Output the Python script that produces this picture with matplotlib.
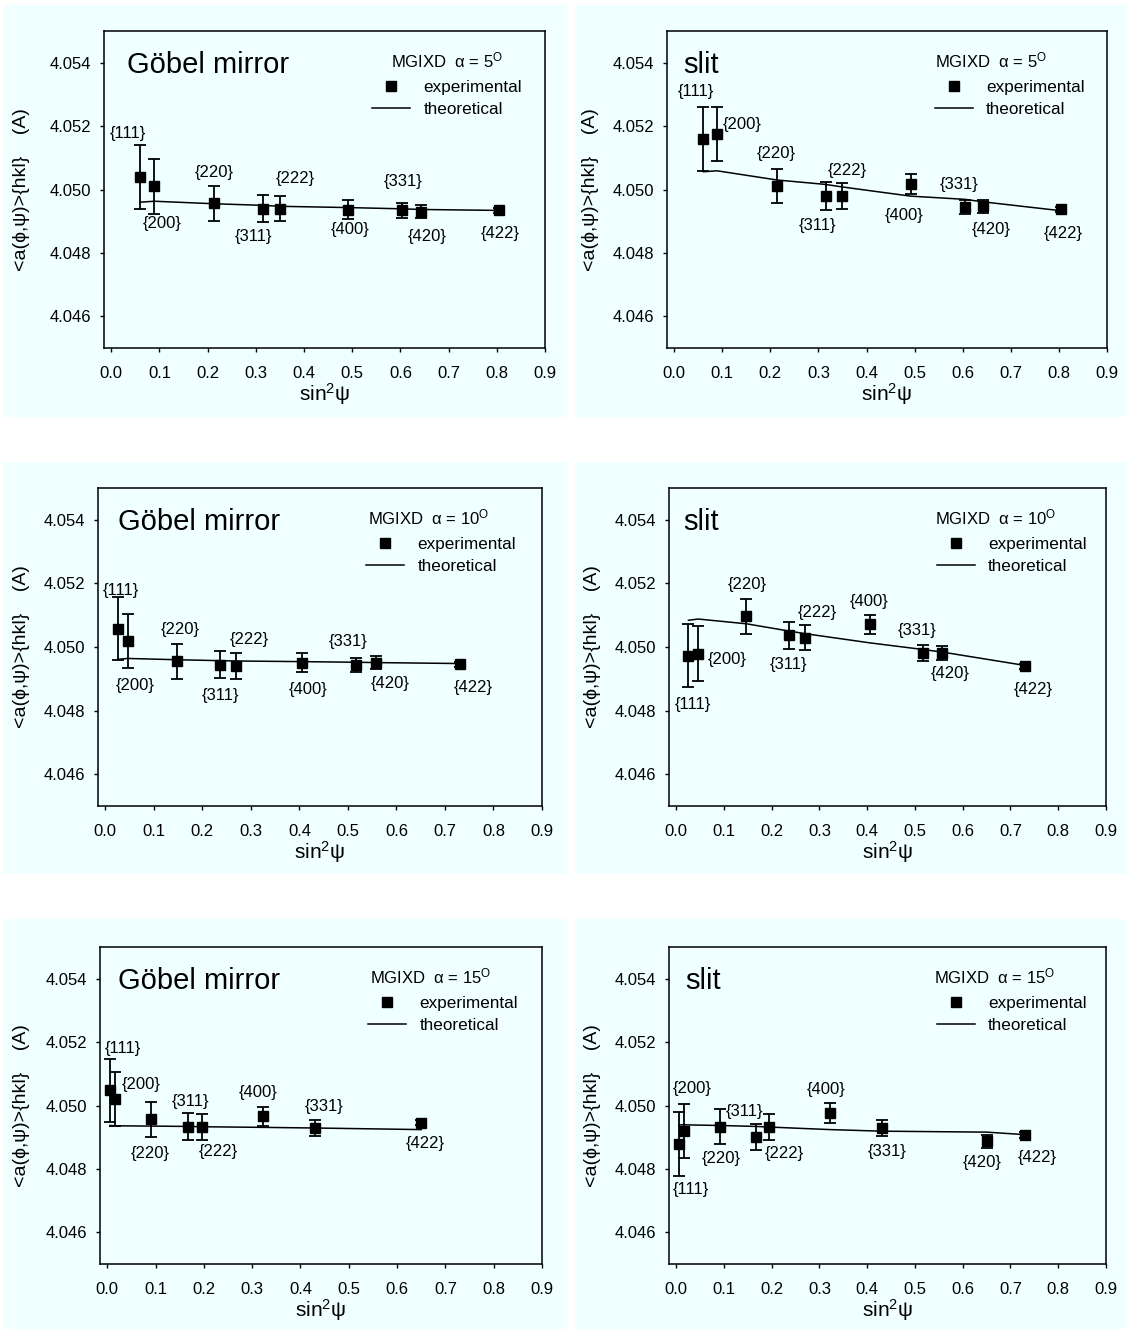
import matplotlib
matplotlib.use("Agg")
import matplotlib.pyplot as plt
from matplotlib.patches import Rectangle
from matplotlib.lines import Line2D

plt.rcParams['font.family'] = ['Liberation Sans', 'DejaVu Sans']
plt.rcParams['mathtext.fontset'] = 'custom'
plt.rcParams['mathtext.rm'] = 'Liberation Sans'
plt.rcParams['mathtext.it'] = 'Liberation Sans:italic'
plt.rcParams['mathtext.bf'] = 'Liberation Sans:bold'

# ---------------------------------------------------------------- data
hkl9 = ['{111}', '{200}', '{220}', '{311}', '{222}', '{400}', '{331}', '{420}', '{422}']
hkl8 = ['{111}', '{200}', '{220}', '{311}', '{222}', '{400}', '{331}', '{422}']

sin2psi_a5 = [0.0605, 0.0891, 0.2138, 0.3148, 0.3494, 0.4920, 0.6042, 0.6425, 0.8044]
sin2psi_a10 = [0.0258, 0.0458, 0.1471, 0.2370, 0.2696, 0.4057, 0.5175, 0.5574, 0.7304]
sin2psi_a15_gm = [0.0055, 0.0164, 0.0910, 0.1671, 0.1952, 0.3222, 0.4305, 0.6500]
sin2psi_a15_sl = [0.0055, 0.0164, 0.0910, 0.1671, 0.1952, 0.3222, 0.4305, 0.6500, 0.7304]

# Göbel mirror, alpha = 5 deg
gm5_a = [4.05039, 4.05010, 4.04956, 4.04940, 4.04940, 4.04936, 4.04934, 4.04930, 4.04934]
gm5_err = [0.00100, 0.00086, 0.00054, 0.00044, 0.00040, 0.00030, 0.00024, 0.00021, 0.00008]
gm5_theory = [4.04960, 4.04963, 4.04955, 4.04950, 4.04947, 4.04943, 4.04939, 4.04937, 4.04934]

# slit, alpha = 5 deg
sl5_a = [4.05159, 4.05175, 4.05011, 4.04979, 4.04979, 4.05017, 4.04945, 4.04947, 4.04937]
sl5_err = [0.00100, 0.00085, 0.00054, 0.00044, 0.00040, 0.00031, 0.00022, 0.00021, 0.00008]
sl5_theory = [4.05056, 4.05059, 4.05030, 4.05016, 4.05008, 4.04979, 4.04969, 4.04961, 4.04933]

# Göbel mirror, alpha = 10 deg
gm10_a = [4.05058, 4.05018, 4.04955, 4.04944, 4.04940, 4.04950, 4.04943, 4.04951, 4.04946]
gm10_err = [0.00100, 0.00085, 0.00056, 0.00043, 0.00040, 0.00030, 0.00023, 0.00021, 0.00008]
gm10_theory = [4.04961, 4.04964, 4.04960, 4.04957, 4.04956, 4.04954, 4.04952, 4.04951, 4.04948]

# slit, alpha = 10 deg
sl10_a = [4.04973, 4.04979, 4.05097, 4.05037, 4.05029, 4.05072, 4.04981, 4.04981, 4.04939]
sl10_err = [0.00100, 0.00087, 0.00055, 0.00043, 0.00040, 0.00030, 0.00024, 0.00021, 0.00008]
sl10_theory = [4.05084, 4.05088, 4.05073, 4.05050, 4.05042, 4.05013, 4.04992, 4.04984, 4.04942]

# Göbel mirror, alpha = 15 deg
gm15_a = [4.05048, 4.05021, 4.04956, 4.04933, 4.04932, 4.04966, 4.04929, 4.04946]
gm15_err = [0.00100, 0.00086, 0.00055, 0.00042, 0.00040, 0.00030, 0.00024, 0.00008]
gm15_theory = [4.04937, 4.04936, 4.04935, 4.04934, 4.04933, 4.04931, 4.04929, 4.04924]

# slit, alpha = 15 deg
sl15_a = [4.04879, 4.04919, 4.04933, 4.04901, 4.04932, 4.04977, 4.04929, 4.04887, 4.04907]
sl15_err = [0.00100, 0.00086, 0.00055, 0.00042, 0.00040, 0.00031, 0.00024, 0.00020, 0.00008]
sl15_theory = [4.04939, 4.04939, 4.04937, 4.04934, 4.04932, 4.04924, 4.04919, 4.04916, 4.04908]

xticks = [0.0, 0.1, 0.2, 0.3, 0.4, 0.5, 0.6, 0.7, 0.8, 0.9]
yticks = [4.046, 4.048, 4.050, 4.052, 4.054]

# ---------------------------------------------------------------- layout
# positions of the {hkl} annotations (data coordinates)
lab_gm5 = [(0.035, 4.05176), (0.105, 4.04893), (0.214, 4.05055), (0.295, 4.04851),
           (0.381, 4.05034), (0.496, 4.04874), (0.605, 4.05026), (0.655, 4.04851),
           (0.808, 4.04861)]
lab_sl5 = [(0.046, 4.05310), (0.141, 4.05205), (0.213, 4.05112), (0.297, 4.04885),
           (0.360, 4.05061), (0.478, 4.04917), (0.592, 4.05016), (0.659, 4.04875),
           (0.809, 4.04861)]
lab_gm10 = [(0.033, 4.05179), (0.061, 4.04879), (0.155, 4.05055), (0.238, 4.04848),
            (0.296, 4.05024), (0.419, 4.04867), (0.500, 4.05016), (0.587, 4.04884),
            (0.759, 4.04872)]
lab_sl10 = [(0.036, 4.04820), (0.106, 4.04960), (0.148, 4.05197), (0.236, 4.04944),
            (0.296, 4.05110), (0.405, 4.05142), (0.504, 4.05052), (0.573, 4.04916),
            (0.747, 4.04867)]
lab_gm15 = [(0.033, 4.05179), (0.070, 4.05066), (0.089, 4.04848), (0.173, 4.05014),
            (0.230, 4.04856), (0.312, 4.05040), (0.449, 4.04998), (0.658, 4.04879)]
lab_sl15 = [(0.031, 4.04735), (0.034, 4.05054), (0.095, 4.04833), (0.143, 4.04982),
            (0.226, 4.04850), (0.315, 4.05050), (0.441, 4.04856), (0.640, 4.04819),
            (0.757, 4.04835)]

W, H = 1127, 1329
BG = '#F0FFFF'

fig = plt.figure(figsize=(W / 100, H / 100), dpi=100)
fig.patch.set_facecolor('white')

# light cyan backing tiles behind each plot
for (x0, x1) in [(3, 568), (575, 1127)]:
    for (y0, y1) in [(5, 417), (462, 874), (919, 1329)]:
        fig.add_artist(Rectangle((x0 / W, 1 - y1 / H), (x1 - x0) / W, (y1 - y0) / H,
                                 transform=fig.transFigure, facecolor=BG,
                                 edgecolor='none', zorder=0))


def add_panel(box, x, a, err, theory, hkl, lab_pos, title, title_dx, alpha_txt,
              info_dx, ylab_dx):
    x0, y0, x1, y1 = box
    w, h = x1 - x0, y1 - y0
    ax = fig.add_axes([x0 / W, 1 - y1 / H, w / W, h / H])
    ax.set_facecolor(BG)

    ax.plot(x, theory, color='black', lw=1.1, zorder=2)
    ax.errorbar(x, a, yerr=err, fmt='s', color='black', ms=7, capsize=4,
                elinewidth=1.3, capthick=1.3, zorder=3)
    for lab, (lx, ly) in zip(hkl, lab_pos):
        ax.text(lx, ly, lab, ha='center', va='center', fontsize=12)

    ax.set_xlim(-0.015, 0.9)
    ax.set_ylim(4.045, 4.055)
    ax.set_xticks(xticks)
    ax.set_xticklabels([f'{t:.1f}' for t in xticks])
    ax.set_yticks(yticks)
    ax.set_yticklabels([f'{t:.3f}' for t in yticks])
    ax.tick_params(axis='both', direction='out', length=3, width=1,
                   labelsize=12, colors='black')
    ax.tick_params(axis='x', pad=10)
    ax.tick_params(axis='y', pad=6.5)
    for sp in ax.spines.values():
        sp.set_linewidth(1.1)
        sp.set_color('black')

    ax.set_xlabel(r'sin$^{\mathrm{2}}$ψ', fontsize=15)
    ax.xaxis.set_label_coords(0.5, -0.105)
    ax.set_ylabel('<a(ϕ,ψ)>{hkl}    (A)', fontsize=14)
    ax.yaxis.set_label_coords(-ylab_dx / w, 0.5)

    ax.text(title_dx / w, 1 - 42 / h, title, fontsize=21, ha='left',
            va='baseline', transform=ax.transAxes)
    ax.text(info_dx / w, 1 - 29 / h, 'MGIXD  α = ' + alpha_txt + r'$^{\mathrm{O}}$',
            fontsize=12, ha='left', va='center', transform=ax.transAxes)

    handles = [Line2D([], [], marker='s', ls='none', color='black', ms=7),
               Line2D([], [], color='black', lw=1.1)]
    ax.legend(handles, ['experimental', 'theoretical'], loc='upper left',
              bbox_to_anchor=(268 / w, 1 - 49 / h), frameon=False, fontsize=12.3,
              handlelength=2.2, handletextpad=0.8, labelspacing=0.42,
              borderpad=0, borderaxespad=0)
    return ax


add_panel((104, 31, 545, 348), sin2psi_a5, gm5_a, gm5_err, gm5_theory, hkl9, lab_gm5,
          'Göbel mirror', 23, '5', 287, 74)
add_panel((667, 31, 1107, 348), sin2psi_a5, sl5_a, sl5_err, sl5_theory, hkl9, lab_sl5,
          'slit', 16, '5', 268, 68)
add_panel((98, 488, 542, 806), sin2psi_a10, gm10_a, gm10_err, gm10_theory, hkl9, lab_gm10,
          'Göbel mirror', 20, '10', 270, 68)
add_panel((669, 488, 1106, 806), sin2psi_a10, sl10_a, sl10_err, sl10_theory, hkl9, lab_sl10,
          'slit', 14, '10', 266, 68)
add_panel((100, 947, 542, 1264), sin2psi_a15_gm, gm15_a, gm15_err, gm15_theory, hkl8, lab_gm15,
          'Göbel mirror', 18, '15', 270, 70)
add_panel((669, 947, 1106, 1264), sin2psi_a15_sl, sl15_a, sl15_err, sl15_theory, hkl9, lab_sl15,
          'slit', 16, '15', 265, 68)

fig.savefig('out.png', dpi=100, facecolor='white')
